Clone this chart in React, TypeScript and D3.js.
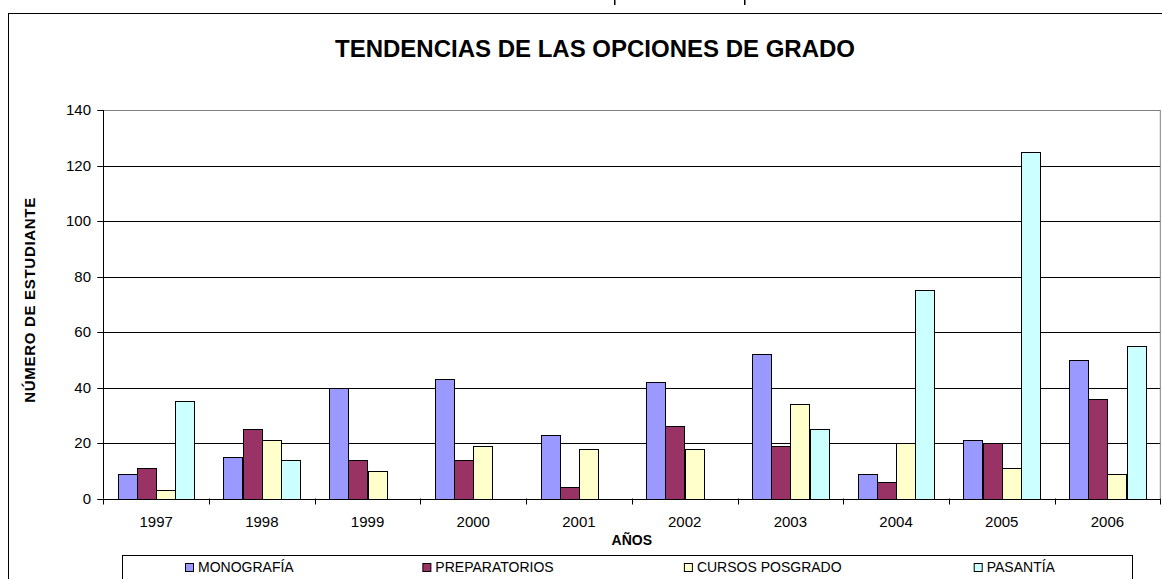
import React, { useMemo } from 'react';
import * as d3 from 'd3';

const years = ['1997', '1998', '1999', '2000', '2001', '2002', '2003', '2004', '2005', '2006'];
const monografia = [9, 15, 40, 43, 23, 42, 52, 9, 21, 50];
const preparatorios = [11, 25, 14, 14, 4, 26, 19, 6, 20, 36];
const cursosPosgrado = [3, 21, 10, 19, 18, 18, 34, 20, 11, 9];
const pasantia = [35, 14, 0, 0, 0, 0, 25, 75, 125, 55];
const seriesNames = ['MONOGRAFÍA', 'PREPARATORIOS', 'CURSOS POSGRADO', 'PASANTÍA'];
const seriesColors = ['#9999FF', '#993366', '#FFFFCC', '#CCFFFF'];
const yTicks = [0, 20, 40, 60, 80, 100, 120, 140];

const FONT = '"Liberation Sans", Arial, sans-serif';

export default function App() {
  const W = 1162;
  const H = 579;
  const plot = { left: 103.3, right: 1160.3, top: 110, bottom: 498.5 };
  const seriesData = [monografia, preparatorios, cursosPosgrado, pasantia];

  const x0 = d3.scaleBand<string>().domain(years).range([plot.left, plot.right]).padding(0);
  const x1 = d3
    .scaleBand<string>()
    .domain(seriesNames)
    .range([0, x0.bandwidth()])
    .paddingInner(0)
    .paddingOuter(0.75);
  const y = d3.scaleLinear().domain([0, 140]).range([plot.bottom, plot.top]);

  const legendFont = 14;
  const legendWidths = useMemo(() => {
    const c = document.createElement('canvas').getContext('2d');
    if (!c) return seriesNames.map((s) => s.length * 8);
    c.font = `${legendFont}px ${FONT}`;
    return seriesNames.map((s) => c.measureText(s).width * 1.07);
  }, []);
  const legendGap = 122;
  const legendStart = 185;
  const legendX: number[] = [];
  let cur = legendStart;
  legendWidths.forEach((w) => {
    legendX.push(cur);
    cur += 8 + 5 + w + legendGap;
  });

  const boundaries = years.map((yr) => x0(yr) as number).concat([plot.right]);

  return (
    <svg
      width={W}
      height={H}
      style={{ position: 'absolute', left: 0, top: 0, background: '#fff' }}
      fontFamily={FONT}
    >
      <rect x={0} y={0} width={W} height={H} fill="#fff" />
      {/* descender fragments of cut-off text above the frame */}
      <rect x={614} y={0} width={1.5} height={5} fill="#000" />
      <rect x={744} y={0} width={1.5} height={5} fill="#000" />
      {/* outer chart frame */}
      <rect x={8.5} y={13.5} width={1300} height={700} fill="#fff" stroke="#000" strokeWidth={1} />

      {/* title */}
      <text x={595} y={57} fontSize={24} fontWeight="bold" textAnchor="middle" fill="#000">
        TENDENCIAS DE LAS OPCIONES DE GRADO
      </text>

      {/* gridlines */}
      {yTicks.filter((t) => t > 0 && t < 140).map((t) => (
        <line
          key={'g' + t}
          x1={plot.left}
          x2={plot.right}
          y1={Math.round(y(t)) + 0.5}
          y2={Math.round(y(t)) + 0.5}
          stroke="#000"
          strokeWidth={1}
        />
      ))}
      {/* plot area border (top/right gray) */}
      <line x1={plot.left} x2={plot.right} y1={plot.top + 0.5} y2={plot.top + 0.5} stroke="#808080" />
      <line x1={plot.right} x2={plot.right} y1={plot.top} y2={plot.bottom} stroke="#808080" />

      {/* bars */}
      {years.map((yr, i) => (
        <g key={yr}>
          {seriesNames.map((s, j) => {
            const v = seriesData[j][i];
            if (!v) return null;
            const bx = (x0(yr) as number) + (x1(s) as number);
            const top = y(v);
            return (
              <rect
                key={s}
                x={Math.round(bx) + 0.5}
                y={Math.round(top) + 0.5}
                width={Math.round(x1.bandwidth())}
                height={Math.round(y(0)) - Math.round(top)}
                fill={seriesColors[j]}
                stroke="#000"
                strokeWidth={1}
              />
            );
          })}
        </g>
      ))}

      {/* y axis */}
      <line x1={Math.round(plot.left) + 0.5} x2={Math.round(plot.left) + 0.5} y1={plot.top} y2={plot.bottom} stroke="#000" />
      {yTicks.map((t) => (
        <g key={'t' + t}>
          <line
            x1={plot.left - 6}
            x2={plot.left}
            y1={Math.round(y(t)) + 0.5}
            y2={Math.round(y(t)) + 0.5}
            stroke="#000"
          />
          <text x={91} y={y(t) + 5} fontSize={15} textAnchor="end" fill="#000">
            {t}
          </text>
        </g>
      ))}

      {/* x axis */}
      <line x1={plot.left} x2={plot.right} y1={Math.round(plot.bottom) + 0.5} y2={Math.round(plot.bottom) + 0.5} stroke="#000" />
      {boundaries.map((b, i) => (
        <line
          key={'xb' + i}
          x1={Math.round(b) + 0.5}
          x2={Math.round(b) + 0.5}
          y1={plot.bottom}
          y2={plot.bottom + 6}
          stroke="#000"
        />
      ))}
      {years.map((yr) => (
        <text
          key={'xl' + yr}
          x={(x0(yr) as number) + x0.bandwidth() / 2}
          y={527}
          fontSize={15}
          textAnchor="middle"
          fill="#000"
        >
          {yr}
        </text>
      ))}

      {/* axis titles */}
      <text x={(plot.left + plot.right) / 2} y={545} fontSize={14} fontWeight="bold" textAnchor="middle" fill="#000">
        AÑOS
      </text>
      <text
        transform={`translate(35, ${(plot.top + plot.bottom) / 2 - 4}) rotate(-90)`}
        fontSize={15}
        fontWeight="bold"
        textAnchor="middle"
        textLength={205}
        lengthAdjust="spacing"
        fill="#000"
      >
        NÚMERO DE ESTUDIANTE
      </text>

      {/* legend */}
      <rect x={122.5} y={555.5} width={1010} height={60} fill="#fff" stroke="#000" strokeWidth={1} />
      {seriesNames.map((s, j) => (
        <g key={'lg' + s}>
          <rect x={legendX[j] + 0.5} y={563.5} width={8} height={8} fill={seriesColors[j]} stroke="#000" />
          <text x={legendX[j] + 13} y={572} fontSize={legendFont} fill="#000">
            {s}
          </text>
        </g>
      ))}
    </svg>
  );
}
